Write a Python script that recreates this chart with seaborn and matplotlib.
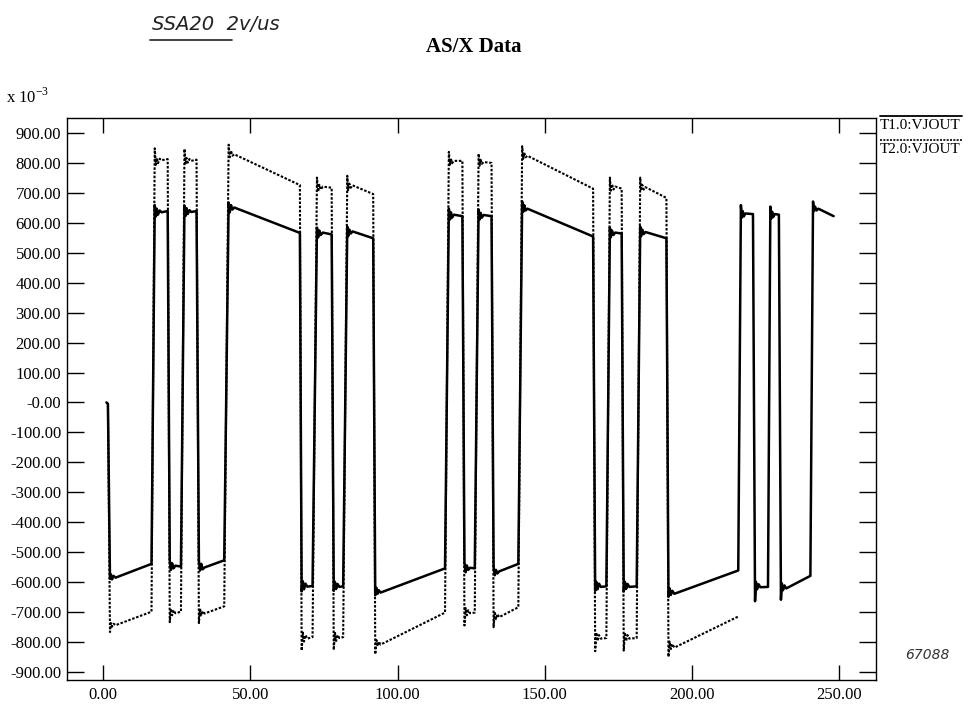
import numpy as np
import pandas as pd
import matplotlib
matplotlib.use("Agg")
import matplotlib.pyplot as plt
from matplotlib.lines import Line2D
import seaborn as sns

# ---------------- data (time in units of x axis, voltage in x10^-3) ----------------
time_pts = [
    1.1, 1.6, 2.3, 2.6, 3.0, 3.5, 4.2, 16.4,
    17.5, 17.9, 18.2, 18.6, 19.2, 19.8, 21.9,
    22.6, 23.0, 23.4, 23.9, 24.5, 26.4,
    27.6, 28.0, 28.3, 28.7, 29.3, 29.9, 31.7,
    32.5, 32.9, 33.3, 33.8, 34.4, 41.1,
    42.6, 43.0, 43.4, 43.9, 44.5, 66.8,
    67.4, 67.8, 68.2, 68.7, 69.3, 71.1,
    72.6, 73.0, 73.4, 73.9, 74.6, 77.6,
    78.3, 78.7, 79.1, 79.6, 80.2, 81.5,
    82.9, 83.2, 83.6, 84.1, 84.7, 91.7,
    92.4, 92.8, 93.2, 93.6, 94.2, 116.1,
    117.4, 117.8, 118.1, 118.5, 119.1, 122.0,
    122.7, 123.1, 123.5, 124.0, 124.6, 126.2,
    127.5, 127.9, 128.2, 128.6, 129.2, 131.9,
    132.6, 133.0, 133.4, 133.9, 134.5, 141.0,
    142.3, 142.7, 143.0, 143.5, 144.1, 166.4,
    167.1, 167.5, 167.9, 168.4, 169.0, 170.9,
    172.1, 172.4, 172.8, 173.3, 173.9, 176.1,
    176.8, 177.2, 177.6, 178.1, 178.7, 181.2,
    182.4, 182.7, 183.1, 183.6, 184.2, 191.3,
    192.0, 192.4, 192.8, 193.3, 194.0, 215.7,
    216.6, 216.9, 217.2, 217.6, 218.1, 220.7,
    221.4, 221.7, 222.1, 222.6, 223.2, 225.8,
    226.6, 226.9, 227.2, 227.6, 228.1, 229.5,
    230.2, 230.5, 230.9, 231.4, 232.0, 240.2,
    241.1, 241.4, 241.8, 242.3, 242.9, 248.1,
]

t1_vjout = [
    0, -5, -590, -575, -592, -580, -586, -540,
    660, 622, 648, 628, 642, 636, 640,
    -528, -560, -538, -555, -546, -549,
    658, 624, 650, 630, 643, 637, 640,
    -530, -562, -540, -558, -552, -528,
    668, 636, 660, 645, 652, 567,
    -632, -598, -625, -606, -616, -614,
    585, 552, 575, 560, 568, 562,
    -630, -600, -624, -607, -617, -615,
    588, 556, 578, 565, 572, 549,
    -645, -620, -640, -628, -636, -555,
    648, 612, 636, 618, 628, 623,
    -535, -568, -545, -560, -553, -555,
    645, 612, 634, 618, 627, 623,
    -550, -578, -560, -572, -565, -540,
    672, 638, 660, 642, 648, 555,
    -630, -600, -625, -606, -617, -615,
    585, 552, 575, 560, 568, 565,
    -632, -600, -624, -607, -617, -615,
    588, 556, 578, 563, 570, 549,
    -650, -622, -644, -630, -640, -562,
    660, 618, 640, 622, 632, 630,
    -665, -600, -625, -608, -618, -617,
    655, 615, 638, 620, 630, 628,
    -660, -605, -628, -612, -622, -580,
    672, 640, 655, 642, 648, 623,
]

t2_vjout = [
    0, -5, -768, -738, -750, -740, -745, -700,
    850, 795, 818, 800, 815, 810, 814,
    -735, -690, -712, -695, -705, -700,
    848, 796, 818, 802, 814, 808, 812,
    -738, -690, -712, -698, -706, -682,
    862, 820, 842, 825, 830, 727,
    -830, -770, -800, -778, -790, -785,
    752, 705, 728, 712, 722, 718,
    -828, -768, -798, -778, -788, -785,
    758, 710, 732, 718, 726, 697,
    -842, -795, -815, -800, -810, -703,
    838, 795, 815, 800, 808, 808,
    -746, -688, -712, -695, -705, -703,
    832, 792, 812, 798, 804, 801,
    -752, -700, -725, -708, -718, -685,
    857, 815, 835, 820, 825, 715,
    -832, -770, -798, -778, -790, -788,
    752, 708, 730, 712, 722, 715,
    -830, -770, -798, -778, -790, -788,
    752, 708, 728, 712, 720, 684,
    -851, -800, -825, -808, -820, -716,
]

x_ticks = [0, 50, 100, 150, 200, 250]
x_tick_labels = ["0.00", "50.00", "100.00", "150.00", "200.00", "250.00"]
y_ticks = list(range(-900, 901, 100))
y_tick_labels = ["-900.00", "-800.00", "-700.00", "-600.00", "-500.00", "-400.00",
                 "-300.00", "-200.00", "-100.00", "-0.00", "100.00", "200.00",
                 "300.00", "400.00", "500.00", "600.00", "700.00", "800.00", "900.00"]
series_names = ["T1.0:VJOUT", "T2.0:VJOUT"]

# ---------------- plotting ----------------
sns.set_theme(style="ticks")
plt.rcParams['font.family'] = ['Liberation Serif', 'DejaVu Serif']

fig = plt.figure(figsize=(9.71, 7.11), dpi=100)
fig.patch.set_facecolor("white")
ax = fig.add_axes([0.0687, 0.0429, 0.8335, 0.791])
ax.set_facecolor("white")

df1 = pd.DataFrame({"time": time_pts, "v": t1_vjout})
df2 = pd.DataFrame({"time": time_pts[:len(t2_vjout)], "v": t2_vjout})

dot_style = (0, (1.2, 0.8))
sns.lineplot(data=df2, x="time", y="v", ax=ax, color="black", lw=1.5,
             sort=False, estimator=None)
ax.lines[-1].set_linestyle(dot_style)
sns.lineplot(data=df1, x="time", y="v", ax=ax, color="black", lw=1.8,
             sort=False, estimator=None)

ax.set_xlim(-12.4, 262.5)
ax.set_ylim(-930, 951)
ax.set_xticks(x_ticks)
ax.set_xticklabels(x_tick_labels)
ax.set_yticks(y_ticks)
ax.set_yticklabels(y_tick_labels)
ax.set_xlabel("")
ax.set_ylabel("")
ax.tick_params(axis="both", direction="in", top=True, right=True,
               width=1, colors="black", labelsize=12)
ax.tick_params(axis="x", length=11, pad=5)
ax.tick_params(axis="y", length=12, pad=4)
for s in ax.spines.values():
    s.set_visible(True)
    s.set_color("black")
    s.set_linewidth(1.0)

W, H = 971.0, 711.0
def fx(px):
    return px / W
def fy(py):
    return 1 - py / H

# title and exponent
fig.text(fx(474), fy(47), "AS/X Data", ha="center", va="center",
         fontsize=15, fontweight="bold", color="black")
fig.text(fx(6), fy(97), r"x 10$^{\mathregular{-3}}$", ha="left", va="center",
         fontsize=12, color="black")

# legend outside right
fig.add_artist(Line2D([fx(880), fx(962)], [fy(116), fy(116)], color="black",
                      lw=1.3, transform=fig.transFigure))
fig.text(fx(880), fy(119), series_names[0], ha="left", va="top", fontsize=11,
         color="black")
fig.add_artist(Line2D([fx(880), fx(962)], [fy(140), fy(140)], color="black",
                      lw=1.2, linestyle=dot_style, transform=fig.transFigure))
fig.text(fx(880), fy(143), series_names[1], ha="left", va="top", fontsize=11,
         color="black")

# handwritten annotations
fig.text(fx(152), fy(24), "SSA20  2v/us", ha="left", va="center", fontsize=14,
         style="italic", family="DejaVu Sans", fontweight="light", color="#222222")
fig.add_artist(Line2D([fx(150), fx(232)], [fy(40), fy(40)], color="#222222",
                      lw=1.2, transform=fig.transFigure))
fig.text(fx(905), fy(655), "67088", ha="left", va="center", fontsize=10,
         style="italic", family="DejaVu Sans", color="#333333")

fig.savefig("out.png", dpi=100, facecolor="white")
